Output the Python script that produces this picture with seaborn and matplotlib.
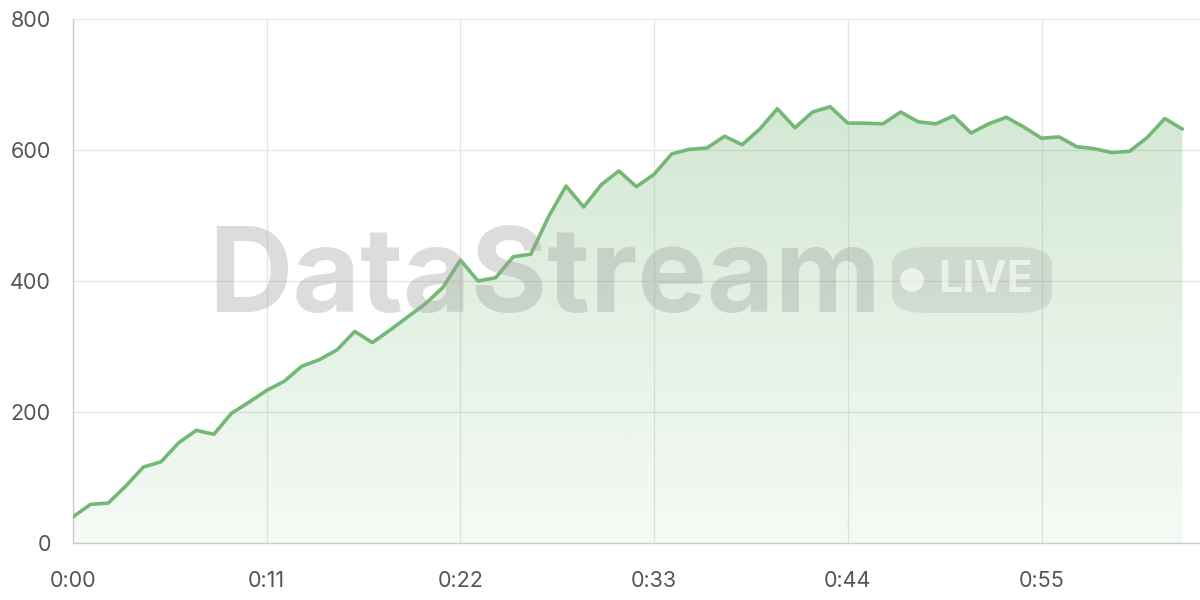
import numpy as np
import matplotlib
matplotlib.use("Agg")
import matplotlib.pyplot as plt
from matplotlib.patches import FancyBboxPatch, Ellipse, Polygon
import seaborn as sb
import pandas as pd

# one reading per second
seconds = list(range(64))
values = [40, 59, 61, 87, 116, 124, 153, 172, 166, 198,
          215, 233, 247, 270, 280, 295, 323, 306, 325, 345,
          365, 390, 432, 400, 405, 437, 441, 498, 545, 513,
          547, 568, 544, 563, 594, 601, 603, 621, 608, 632,
          663, 634, 658, 666, 641, 641, 640, 658, 643, 640,
          652, 626, 640, 650, 635, 618, 620, 605, 602, 596,
          598, 619, 648, 632]
tick_secs = [0, 11, 22, 33, 44, 55]
tick_labels = ["0:00", "0:11", "0:22", "0:33", "0:44", "0:55"]
y_ticks = [0, 200, 400, 600, 800]

line_color = "#74b877"

sb.set_theme(style="white")
plt.rcParams['font.family'] = ['Inter', 'DejaVu Sans']

df = pd.DataFrame({"t": seconds, "v": values})

fig = plt.figure(figsize=(12, 6), dpi=100)
ax = fig.add_axes([73 / 1200, 57 / 600, 1 - 73 / 1200, (543 - 19) / 600])

# gradient fill under the line
grad = np.linspace(0.07, 0.32, 256).reshape(-1, 1)
rgba = np.zeros((256, 1, 4))
rgba[..., 0] = 0x74 / 255
rgba[..., 1] = 0xb8 / 255
rgba[..., 2] = 0x77 / 255
rgba[..., 3] = grad
img = ax.imshow(rgba, extent=[0, 63, 0, max(values)], origin="lower",
                aspect="auto", zorder=1)
verts = [(0, 0)] + list(zip(seconds, values)) + [(63, 0)]
clip = Polygon(verts, closed=True, transform=ax.transData, facecolor="none",
               edgecolor="none")
ax.add_patch(clip)
img.set_clip_path(clip)

sb.lineplot(data=df, x="t", y="v", ax=ax, color=line_color, linewidth=2.6,
            zorder=4)

ax.set_xlim(0, 64)
ax.set_ylim(0, 800)
ax.set_xticks(tick_secs)
ax.set_xticklabels(tick_labels)
ax.set_yticks(y_ticks)
ax.set_xlabel("")
ax.set_ylabel("")
ax.grid(True, color="#e6e6e6", linewidth=1)
ax.set_axisbelow(True)
for side in ["top", "right"]:
    ax.spines[side].set_visible(False)
for side in ["left", "bottom"]:
    ax.spines[side].set_color("#cccccc")
    ax.spines[side].set_linewidth(1)
ax.tick_params(axis="both", colors="#e6e6e6", length=11, width=1,
               labelcolor="#555555", labelsize=15.5)
ax.tick_params(axis="x", pad=9)
ax.tick_params(axis="y", pad=5)

# watermark
fig.text(208 / 1200, 1 - 312 / 600, "DataStream", fontsize=84,
         fontweight="bold", color="#a0a0a0", alpha=0.36, zorder=3)
badge = FancyBboxPatch((892 / 1200, 1 - 313 / 600), 160 / 1200, 66 / 600,
                       boxstyle="round,pad=0,rounding_size=0.03",
                       transform=fig.transFigure, facecolor="#8a8a8a",
                       edgecolor="none", alpha=0.2, zorder=3)
fig.patches.append(badge)
fig.patches.append(Ellipse((912 / 1200, 1 - 280 / 600), 22 / 1200, 22 / 600,
                           transform=fig.transFigure, facecolor="white",
                           alpha=0.6, zorder=3))
fig.text(938 / 1200, 1 - 281 / 600, "LIVE", fontsize=31, fontweight="bold",
         color="white", alpha=0.6, va="center", zorder=3)

fig.savefig("out.png", dpi=100)
